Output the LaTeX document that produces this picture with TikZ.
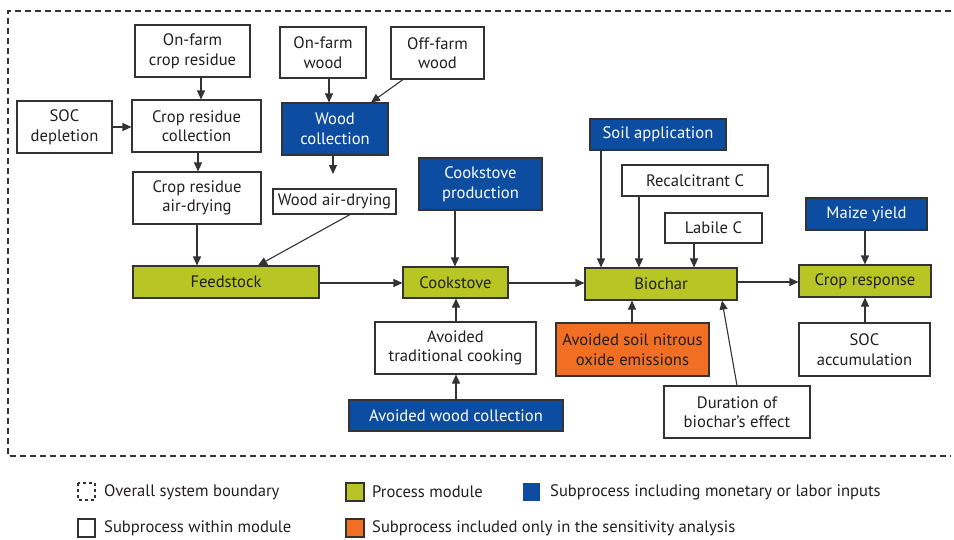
\documentclass[tikz,border=0pt]{standalone}
\usepackage{fontspec}
\setmainfont{PT Sans}
\usetikzlibrary{arrows.meta}
\definecolor{pgreen}{RGB}{183,198,36}
\definecolor{pblue}{RGB}{13,77,161}
\definecolor{porange}{RGB}{242,110,34}
\definecolor{lgray}{RGB}{51,51,51}
\definecolor{txt}{RGB}{35,31,32}
\begin{document}
\begin{tikzpicture}[x=1pt,y=-1pt,
  every node/.style={font=\fontsize{16.6}{19.5}\selectfont, text=txt},
  box/.style={draw=lgray, line width=1.1pt, fill=white, align=center, inner sep=0pt, rectangle},
  procbox/.style={box, fill=pgreen},
  bluebox/.style={box, fill=pblue, text=white},
  orangebox/.style={box, fill=porange},
  arr/.style={draw=lgray, line width=1.1pt, -{Triangle[length=9pt,width=8pt]}},
  legtext/.style={anchor=west, inner sep=0pt}
]
\useasboundingbox (0,0) rectangle (954,539);
% system boundary
\draw[lgray, line width=1.4pt, dash pattern=on 6pt off 4pt] (951,11) -- (8,11) -- (8,456) -- (951,456);

% nodes
\node[box, minimum width=115pt, minimum height=52pt] (onfarmcrop) at (192.5,51) {On-farm\\crop residue};
\node[box, minimum width=95pt, minimum height=52pt] (socdep) at (64.5,127) {SOC\\depletion};
\node[box, minimum width=129pt, minimum height=52pt] (crcoll) at (196.5,126) {Crop residue\\collection};
\node[box, minimum width=128pt, minimum height=52pt] (crdry) at (197,198) {Crop residue\\air-drying};
\node[box, minimum width=86pt, minimum height=51pt] (onfarmwood) at (323,52.5) {On-farm\\wood};
\node[box, minimum width=93pt, minimum height=52pt] (offfarmwood) at (437.5,53) {Off-farm\\wood};
\node[bluebox, minimum width=106pt, minimum height=52pt] (woodcoll) at (335,129) {Wood\\collection};
\node[box, minimum width=123pt, minimum height=25pt] (wooddry) at (334.5,201.5) {Wood air-drying};
\node[bluebox, minimum width=123pt, minimum height=52pt] (cookprod) at (480.5,184) {Cookstove\\production};
\node[bluebox, minimum width=136pt, minimum height=31pt] (soilapp) at (658,134.5) {Soil application};
\node[box, minimum width=146pt, minimum height=31pt] (recalc) at (695,180.5) {Recalcitrant C};
\node[box, minimum width=97pt, minimum height=30pt] (labile) at (713.5,228) {Labile C};
\node[bluebox, minimum width=121pt, minimum height=32pt] (maize) at (866.5,214) {Maize yield};
\node[procbox, minimum width=186pt, minimum height=32pt] (feedstock) at (226,282) {Feedstock};
\node[procbox, minimum width=105pt, minimum height=31pt] (cookstove) at (455.5,282.5) {Cookstove};
\node[procbox, minimum width=152pt, minimum height=32pt] (biochar) at (661,284) {Biochar};
\node[procbox, minimum width=132pt, minimum height=32pt] (cropresp) at (865,281) {Crop response};
\node[box, minimum width=161pt, minimum height=52pt] (avtrad) at (455.5,348) {Avoided\\traditional cooking};
\node[bluebox, minimum width=214pt, minimum height=31pt] (avwood) at (456,415.5) {Avoided wood collection};
\node[orangebox, minimum width=153pt, minimum height=53pt] (nitrous) at (632.5,349.5) {Avoided soil nitrous\\oxide emissions};
\node[box, minimum width=146pt, minimum height=52pt] (duration) at (737,412) {Duration of\\biochar’s effect};
\node[box, minimum width=131pt, minimum height=53pt] (socacc) at (864.5,349.5) {SOC\\accumulation};

\coordinate (woodcollend) at (333,174);

% connectors
\draw[arr] (201,0 |- onfarmcrop.south) -- (201,0 |- crcoll.north);
\draw[arr] (socdep.east |- 0,127) -- (crcoll.west |- 0,127);
\draw[arr] (198,0 |- crcoll.south) -- (198,0 |- crdry.north);
\draw[arr] (329,0 |- onfarmwood.south) -- (329,0 |- woodcoll.north);
\draw[arr] (403,0 |- offfarmwood.south) -- (371,0 |- woodcoll.north);
\draw[arr] (333,0 |- woodcoll.south) -- (woodcollend);
\draw[arr] (350,0 |- wooddry.south) -- (258,0 |- feedstock.north);
\draw[arr] (197,0 |- crdry.south) -- (197,0 |- feedstock.north);
\draw[arr] (455,0 |- cookprod.south) -- (455,0 |- cookstove.north);
\draw[arr] (feedstock.east |- 0,283) -- (cookstove.west |- 0,283);
\draw[arr] (cookstove.east |- 0,283) -- (biochar.west |- 0,283);
\draw[arr] (biochar.east |- 0,282) -- (cropresp.west |- 0,282);
\draw[arr] (601,0 |- soilapp.south) -- (601,0 |- biochar.north);
\draw[arr] (639,0 |- recalc.south) -- (639,0 |- biochar.north);
\draw[arr] (694,0 |- labile.south) -- (694,0 |- biochar.north);
\draw[arr] (865,0 |- maize.south) -- (865,0 |- cropresp.north);
\draw[arr] (865,0 |- socacc.north) -- (865,0 |- cropresp.south);
\draw[arr] (456,0 |- avtrad.north) -- (456,0 |- cookstove.south);
\draw[arr] (456,0 |- avwood.north) -- (456,0 |- avtrad.south);
\draw[arr] (632,0 |- nitrous.north) -- (632,0 |- biochar.south);
\draw[arr] (737,0 |- duration.north) -- (722,0 |- biochar.south);

% legend
\draw[lgray, line width=1.2pt, dash pattern=on 3pt off 3pt] (78,483) rectangle (95,500);
\node[legtext] (l1) at (104,492) {Overall system boundary};
\draw[lgray, line width=1.1pt, fill=pgreen] (346,483) rectangle (364,501);
\node[legtext] (l2) at (372,492) {Process module};
\fill[pblue] (523,483) rectangle (540,501);
\node[legtext] (l3) at (550,492) {Subprocess including monetary or labor inputs};
\draw[lgray, line width=1.1pt, fill=white] (78,519) rectangle (95,537);
\node[legtext] (l4) at (104,528) {Subprocess within module};
\draw[lgray, line width=1.1pt, fill=porange] (346,519) rectangle (364,537);
\node[legtext] (l5) at (372,528) {Subprocess included only in the sensitivity analysis};
\end{tikzpicture}
\end{document}
